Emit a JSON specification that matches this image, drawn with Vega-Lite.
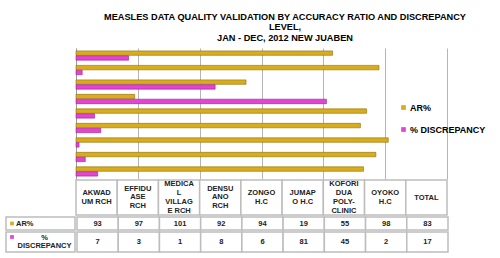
{
  "$schema": "https://vega.github.io/schema/vega-lite/v6.json",
  "padding": {"left": 5, "top": 12, "right": 5, "bottom": 5},
  "background": "white",
  "title": {
    "text": ["MEASLES DATA QUALITY VALIDATION BY ACCURACY RATIO AND DISCREPANCY", "LEVEL,", "JAN - DEC, 2012 NEW JUABEN"],
    "font": "Liberation Sans",
    "fontSize": 9.2,
    "fontWeight": "bold",
    "lineHeight": 10.5,
    "color": "#000000",
    "anchor": "start",
    "align": "center",
    "dx": 279,
    "frame": "group",
    "offset": 5
  },
  "datasets": {
    "bars": [
      {"site": "AKWADUM RCH", "series": "AR%", "value": 93},
      {"site": "AKWADUM RCH", "series": "% DISCREPANCY", "value": 7},
      {"site": "EFFIDUASE RCH", "series": "AR%", "value": 97},
      {"site": "EFFIDUASE RCH", "series": "% DISCREPANCY", "value": 3},
      {"site": "MEDICAL VILLAGE RCH", "series": "AR%", "value": 101},
      {"site": "MEDICAL VILLAGE RCH", "series": "% DISCREPANCY", "value": 1},
      {"site": "DENSUANO RCH", "series": "AR%", "value": 92},
      {"site": "DENSUANO RCH", "series": "% DISCREPANCY", "value": 8},
      {"site": "ZONGO H.C", "series": "AR%", "value": 94},
      {"site": "ZONGO H.C", "series": "% DISCREPANCY", "value": 6},
      {"site": "JUMAPO H.C", "series": "AR%", "value": 19},
      {"site": "JUMAPO H.C", "series": "% DISCREPANCY", "value": 81},
      {"site": "KOFORIDUA POLY-CLINIC", "series": "AR%", "value": 55},
      {"site": "KOFORIDUA POLY-CLINIC", "series": "% DISCREPANCY", "value": 45},
      {"site": "OYOKO H.C", "series": "AR%", "value": 98},
      {"site": "OYOKO H.C", "series": "% DISCREPANCY", "value": 2},
      {"site": "TOTAL", "series": "AR%", "value": 83},
      {"site": "TOTAL", "series": "% DISCREPANCY", "value": 17}
    ],
    "sites": [
      {"site": "AKWADUM RCH", "header": "AKWAD\nUM RCH"},
      {"site": "EFFIDUASE RCH", "header": "EFFIDU\nASE\nRCH"},
      {"site": "MEDICAL VILLAGE RCH", "header": "MEDICA\nL\nVILLAG\nE RCH"},
      {"site": "DENSUANO RCH", "header": "DENSU\nANO\nRCH"},
      {"site": "ZONGO H.C", "header": "ZONGO\nH.C"},
      {"site": "JUMAPO H.C", "header": "JUMAP\nO H.C"},
      {"site": "KOFORIDUA POLY-CLINIC", "header": "KOFORI\nDUA\nPOLY-\nCLINIC"},
      {"site": "OYOKO H.C", "header": "OYOKO\nH.C"},
      {"site": "TOTAL", "header": "TOTAL"}
    ],
    "rowlabels": [
      {"series": "AR%", "label": "AR%"},
      {"series": "% DISCREPANCY", "label": "%\nDISCREPANCY"}
    ]
  },
  "spacing": 0,
  "vconcat": [
    {
      "spacing": 0,
      "hconcat": [
        {
          "width": 69, "height": 131,
          "data": {"values": [{"k": 1}]},
          "mark": {"type": "rect", "opacity": 0},
          "encoding": {}
        },
        {
          "width": 371,
          "height": 131,
          "data": {"name": "bars"},
          "mark": {"type": "bar", "strokeWidth": 0.6},
          "encoding": {
            "y": {
              "field": "site", "type": "nominal",
              "sort": ["TOTAL", "OYOKO H.C", "KOFORIDUA POLY-CLINIC", "JUMAPO H.C", "ZONGO H.C", "DENSUANO RCH", "MEDICAL VILLAGE RCH", "EFFIDUASE RCH", "AKWADUM RCH"],
              "scale": {"paddingInner": 0.36, "paddingOuter": 0.2},
              "axis": {"labels": false, "ticks": false, "title": null, "domainColor": "#9a9a9a"}
            },
            "x": {
              "field": "value", "type": "quantitative",
              "scale": {"domain": [0, 120], "nice": false},
              "axis": {"values": [0, 20, 40, 60, 80, 100, 120], "labels": false, "ticks": false, "domain": false, "title": null, "grid": true, "gridColor": "#b5b5b5", "gridWidth": 1}
            },
            "yOffset": {"field": "series", "sort": ["AR%", "% DISCREPANCY"], "scale": {"paddingInner": 0.08}},
            "color": {
              "field": "series", "type": "nominal",
              "scale": {"domain": ["AR%", "% DISCREPANCY"], "range": ["#D9AC1C", "#E244D4"]},
              "legend": {
                "title": null, "orient": "none", "legendX": 393, "legendY": 55,
                "symbolType": "square", "symbolSize": 22, "symbolStrokeWidth": 0,
                "labelFont": "Liberation Sans", "labelFontSize": 9, "labelFontWeight": "bold", "labelColor": "#000000",
                "rowPadding": 12, "labelOffset": 2, "padding": 0
              }
            },
            "stroke": {
              "field": "series", "type": "nominal",
              "scale": {"domain": ["AR%", "% DISCREPANCY"], "range": ["#8C6E08", "#A0208F"]},
              "legend": null
            }
          }
        }
      ]
    },
    {
      "spacing": 0,
      "hconcat": [
        {
          "width": 69, "height": 35,
          "data": {"values": [{"k": 1}]},
          "mark": {"type": "rect", "opacity": 0},
          "encoding": {}
        },
        {
          "width": 371, "height": 35,
          "data": {"name": "sites"},
          "encoding": {
            "x": {"field": "site", "type": "nominal", "sort": ["AKWADUM RCH", "EFFIDUASE RCH", "MEDICAL VILLAGE RCH", "DENSUANO RCH", "ZONGO H.C", "JUMAPO H.C", "KOFORIDUA POLY-CLINIC", "OYOKO H.C", "TOTAL"], "scale": {"type": "band", "paddingInner": 0, "paddingOuter": 0}, "axis": null}
          },
          "layer": [
            {
              "mark": {"type": "rect", "fill": "white", "stroke": "#bdbdbd", "strokeWidth": 1.5}
            },
            {
              "transform": [{"filter": "length(split(datum.header, '\\n')) == 1"}],
              "mark": {"type": "text", "font": "Liberation Sans", "fontSize": 7.5, "fontWeight": "bold", "lineBreak": "\n", "lineHeight": 8.7, "color": "#222222", "baseline": "middle", "dy": 0},
              "encoding": {"text": {"field": "header"}}
            },
            {
              "transform": [{"filter": "length(split(datum.header, '\\n')) == 2"}],
              "mark": {"type": "text", "font": "Liberation Sans", "fontSize": 7.5, "fontWeight": "bold", "lineBreak": "\n", "lineHeight": 8.7, "color": "#222222", "baseline": "middle", "dy": -4.35},
              "encoding": {"text": {"field": "header"}}
            },
            {
              "transform": [{"filter": "length(split(datum.header, '\\n')) == 3"}],
              "mark": {"type": "text", "font": "Liberation Sans", "fontSize": 7.5, "fontWeight": "bold", "lineBreak": "\n", "lineHeight": 8.7, "color": "#222222", "baseline": "middle", "dy": -8.7},
              "encoding": {"text": {"field": "header"}}
            },
            {
              "transform": [{"filter": "length(split(datum.header, '\\n')) == 4"}],
              "mark": {"type": "text", "font": "Liberation Sans", "fontSize": 7.5, "fontWeight": "bold", "lineBreak": "\n", "lineHeight": 8.7, "color": "#222222", "baseline": "middle", "dy": -13.05},
              "encoding": {"text": {"field": "header"}}
            }
          ]
        }
      ]
    },
    {
      "spacing": 0,
      "hconcat": [
        {
          "width": 69, "height": 13,
          "data": {"name": "rowlabels"},
          "transform": [{"filter": "datum.series == 'AR%'"}],
          "layer": [
            {
              "mark": {"type": "rect", "fill": "white", "stroke": "#bdbdbd", "strokeWidth": 1.5},
              "encoding": {"x": {"field": "series", "type": "nominal", "scale": {"type": "band", "paddingInner": 0, "paddingOuter": 0}, "axis": null}}
            },
            {
              "mark": {"type": "point", "shape": "square", "filled": true, "size": 14, "color": "#D9AC1C", "opacity": 1, "xOffset": 6},
              "encoding": {"x": {"field": "series", "type": "nominal", "bandPosition": 0, "axis": null}}
            },
            {
              "mark": {"type": "text", "font": "Liberation Sans", "fontSize": 7.5, "fontWeight": "bold", "align": "left", "dx": 10, "color": "#222222"},
              "encoding": {"x": {"field": "series", "type": "nominal", "bandPosition": 0, "axis": null}, "text": {"field": "label"}}
            }
          ]
        },
        {
          "width": 371, "height": 13,
          "data": {"name": "bars"},
          "transform": [{"filter": "datum.series == 'AR%'"}],
          "encoding": {
            "x": {"field": "site", "type": "nominal", "sort": ["AKWADUM RCH", "EFFIDUASE RCH", "MEDICAL VILLAGE RCH", "DENSUANO RCH", "ZONGO H.C", "JUMAPO H.C", "KOFORIDUA POLY-CLINIC", "OYOKO H.C", "TOTAL"], "scale": {"type": "band", "paddingInner": 0, "paddingOuter": 0}, "axis": null}
          },
          "layer": [
            {
              "mark": {"type": "rect", "fill": "white", "stroke": "#bdbdbd", "strokeWidth": 1.5}
            },
            {
              "mark": {"type": "text", "font": "Liberation Sans", "fontSize": 7.5, "fontWeight": "bold", "color": "#222222"},
              "encoding": {"text": {"field": "value"}}
            }
          ]
        }
      ]
    },
    {
      "spacing": 0,
      "hconcat": [
        {
          "width": 69, "height": 20,
          "data": {"name": "rowlabels"},
          "transform": [{"filter": "datum.series == '% DISCREPANCY'"}],
          "layer": [
            {
              "mark": {"type": "rect", "fill": "white", "stroke": "#bdbdbd", "strokeWidth": 1.5},
              "encoding": {"x": {"field": "series", "type": "nominal", "scale": {"type": "band", "paddingInner": 0, "paddingOuter": 0}, "axis": null}}
            },
            {
              "mark": {"type": "point", "shape": "square", "filled": true, "size": 14, "color": "#E244D4", "opacity": 1, "xOffset": 6, "yOffset": -5},
              "encoding": {"x": {"field": "series", "type": "nominal", "bandPosition": 0, "axis": null}}
            },
            {
              "mark": {"type": "text", "font": "Liberation Sans", "fontSize": 7.5, "fontWeight": "bold", "align": "center", "dx": 4, "dy": -4.25, "lineBreak": "\n", "lineHeight": 8.5, "color": "#222222"},
              "encoding": {"x": {"field": "series", "type": "nominal", "axis": null}, "text": {"field": "label"}}
            }
          ]
        },
        {
          "width": 371, "height": 20,
          "data": {"name": "bars"},
          "transform": [{"filter": "datum.series == '% DISCREPANCY'"}],
          "encoding": {
            "x": {"field": "site", "type": "nominal", "sort": ["AKWADUM RCH", "EFFIDUASE RCH", "MEDICAL VILLAGE RCH", "DENSUANO RCH", "ZONGO H.C", "JUMAPO H.C", "KOFORIDUA POLY-CLINIC", "OYOKO H.C", "TOTAL"], "scale": {"type": "band", "paddingInner": 0, "paddingOuter": 0}, "axis": null}
          },
          "layer": [
            {
              "mark": {"type": "rect", "fill": "white", "stroke": "#bdbdbd", "strokeWidth": 1.5}
            },
            {
              "mark": {"type": "text", "font": "Liberation Sans", "fontSize": 7.5, "fontWeight": "bold", "color": "#222222"},
              "encoding": {"text": {"field": "value"}}
            }
          ]
        }
      ]
    }
  ],
  "config": {
    "view": {"stroke": null},
    "font": "Liberation Sans"
  }
}
